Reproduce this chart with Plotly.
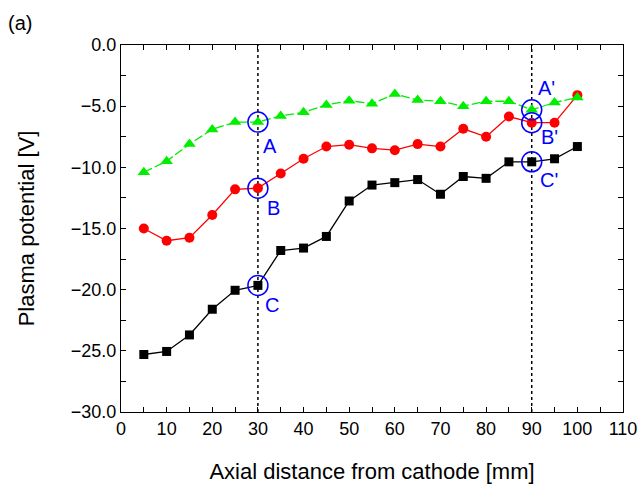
import plotly.graph_objects as go

# Axial position of each probe measurement [mm]
axial_mm = [5, 10, 15, 20, 25, 30, 35, 40, 45, 50, 55, 60, 65, 70, 75, 80, 85, 90, 95, 100]

# Plasma potential profiles [V]
pot_green = [-10.4, -9.5, -8.1, -6.9, -6.3, -6.3, -5.8, -5.5, -4.9, -4.55, -4.8,
             -4.0, -4.5, -4.6, -5.0, -4.6, -4.6, -5.3, -4.7, -4.3]
pot_red = [-15.0, -16.0, -15.75, -13.9, -11.8, -11.7, -10.5, -9.3, -8.3, -8.15, -8.45,
           -8.6, -8.1, -8.3, -6.85, -7.5, -5.85, -6.35, -6.35, -4.1]
pot_black = [-25.3, -25.05, -23.7, -21.6, -20.05, -19.65, -16.8, -16.6, -15.65, -12.75, -11.45,
             -11.25, -11.0, -12.2, -10.75, -10.9, -9.55, -9.55, -9.3, -8.3]

# Marked positions and their labels
mark_x = [30, 90]
labels_near = ["A", "B", "C"]
labels_far = ["A'", "B'", "C'"]

FONT = "Liberation Sans, Arial, sans-serif"

fig = go.Figure()

fig.add_trace(go.Scatter(
    x=axial_mm, y=pot_black, mode="lines+markers",
    line=dict(color="black", width=1.3),
    marker=dict(symbol="square", size=9, color="black"),
))
fig.add_trace(go.Scatter(
    x=axial_mm, y=pot_red, mode="lines+markers",
    line=dict(color="#ff0000", width=1.3),
    marker=dict(symbol="circle", size=10, color="#ff0000"),
))
fig.add_trace(go.Scatter(
    x=axial_mm, y=pot_green, mode="lines+markers",
    line=dict(color="#00ee00", width=1.3, dash="9px,3px"),
    marker=dict(symbol="triangle-up", size=11, color="#00ee00"),
))

shapes = []
for xv in mark_x:
    shapes.append(dict(type="line", xref="x", yref="paper", x0=xv, x1=xv, y0=0, y1=1,
                       line=dict(color="black", width=1.5, dash="dot"), layer="below"))

# pixel offsets of each letter from its circled point
label_offsets = {
    "A": (12, -24), "B": (16, -20), "C": (14, -20),
    "A'": (15, 22), "B'": (18, -14), "C'": (17, -18),
}

annotations = []
for xv, names in zip(mark_x, [labels_near, labels_far]):
    i = axial_mm.index(xv)
    for series, name in zip([pot_green, pot_red, pot_black], names):
        yv = series[i]
        shapes.append(dict(type="circle", xref="x", yref="y",
                           xsizemode="pixel", ysizemode="pixel",
                           xanchor=xv, yanchor=yv, x0=-10, x1=10, y0=-10, y1=10,
                           line=dict(color="#0000ff", width=1.5)))
        dx, dy = label_offsets[name]
        annotations.append(dict(x=xv, y=yv, xref="x", yref="y", text=name,
                                showarrow=False, xanchor="center", yanchor="middle",
                                xshift=dx, yshift=dy,
                                font=dict(family=FONT, size=20, color="#0000ff")))

annotations.append(dict(x=0, y=1, xref="paper", yref="paper", text="(a)",
                        xshift=-115, yshift=22, showarrow=False,
                        xanchor="left", yanchor="middle",
                        font=dict(family=FONT, size=20, color="black")))

axis_common = dict(
    showline=True, linecolor="black", linewidth=1.2, mirror="allticks",
    ticks="inside", ticklen=5, tickcolor="black", tickwidth=1,
    showgrid=False, zeroline=False, automargin=False,
    tickfont=dict(family=FONT, size=18, color="black"),
)

fig.update_layout(
    width=639, height=487,
    margin=dict(l=121, r=16, t=45, b=75),
    paper_bgcolor="white", plot_bgcolor="white",
    showlegend=False,
    shapes=shapes, annotations=annotations,
    xaxis=dict(range=[0, 110], dtick=10, tick0=0,
               minor=dict(ticks="inside", dtick=5, ticklen=5, tickcolor="black"),
               title=dict(text="Axial distance from cathode [mm]", standoff=25,
                          font=dict(family=FONT, size=22, color="black")),
               **axis_common),
    yaxis=dict(range=[-30, 0], dtick=5, tick0=0, tickformat=".1f",
               minor=dict(ticks="inside", dtick=2.5, ticklen=5, tickcolor="black"),
               title=dict(text="Plasma potential [V]", standoff=30,
                          font=dict(family=FONT, size=22, color="black")),
               **axis_common),
)

fig.write_html("out.html")
